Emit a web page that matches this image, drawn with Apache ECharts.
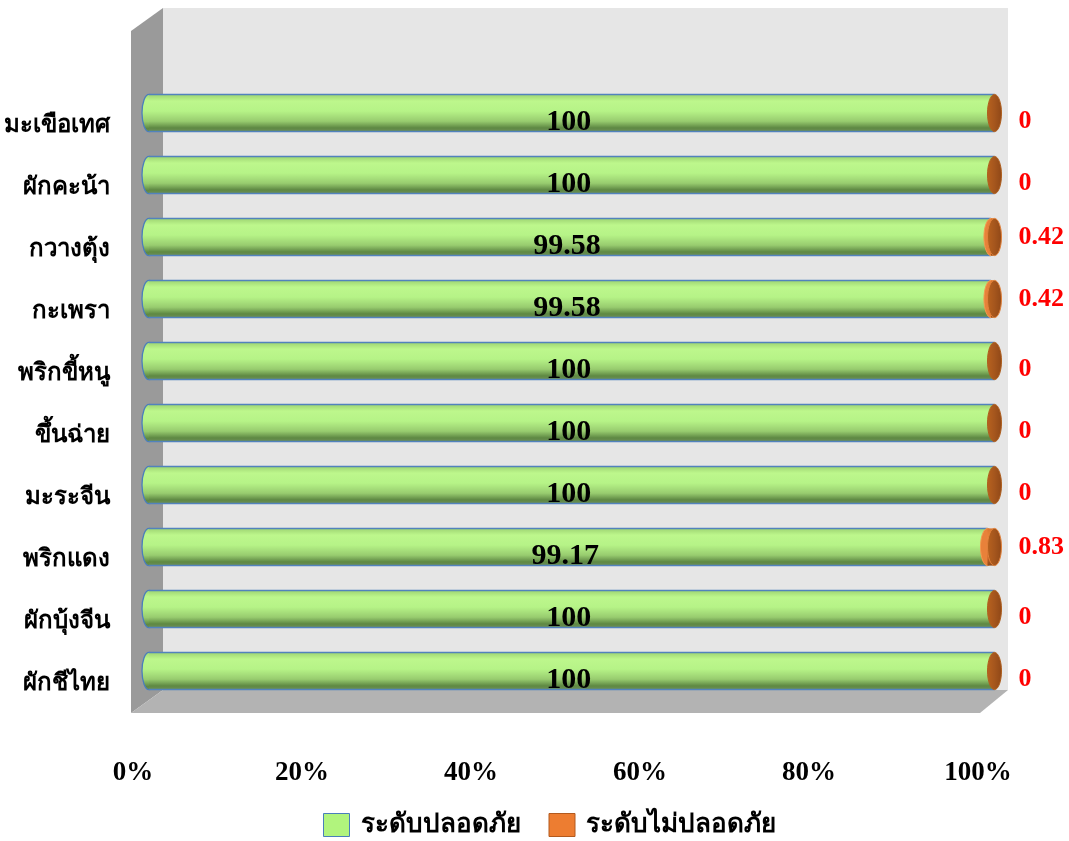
<!DOCTYPE html>
<html><head><meta charset="utf-8">
<script src="https://cdn.jsdelivr.net/npm/echarts@6/dist/echarts.min.js"></script>
<style>html,body{margin:0;padding:0;background:#fff}#c{width:1069px;height:841px}</style>
</head><body><div id="c"></div>
<script>
const categories = ['ผักชีไทย','ผักบุ้งจีน','พริกแดง','มะระจีน','ขึ้นฉ่าย','พริกขี้หนู','กะเพรา','กวางตุ้ง','ผักคะน้า','มะเขือเทศ'];
const safeValues = [100,100,99.17,100,100,100,99.58,99.58,100,100];
const unsafeValues = [0,0,0.83,0,0,0,0.42,0.42,0,0];
const xTicks = [0,20,40,60,80,100];
const seriesNames = ['ระดับปลอดภัย','ระดับไม่ปลอดภัย'];

const FONT = '"Liberation Serif","Times New Roman",serif';
const chart = echarts.init(document.getElementById('c'));

const greenGrad = () => new echarts.graphic.LinearGradient(0,0,0,1,[
  {offset:0,color:'#9ed472'},{offset:0.18,color:'#bdf78c'},{offset:0.45,color:'#b6f387'},
  {offset:0.72,color:'#98cc6f'},{offset:0.9,color:'#5e8843'},{offset:1,color:'#6d8f55'}]);
const orangeGrad = () => new echarts.graphic.LinearGradient(0,0,0,1,[
  {offset:0,color:'#d9762f'},{offset:0.3,color:'#f28a3c'},{offset:0.75,color:'#c9672a'},{offset:1,color:'#8e4a1a'}]);
const capGrad = () => new echarts.graphic.LinearGradient(0,0,1,0,[
  {offset:0,color:'#b8621f'},{offset:0.5,color:'#a5561d'},{offset:1,color:'#8f4717'}]);

function barH(api){ return api.size([0,1])[1]*0.6; }

function renderSafe(params, api){
  const ci = api.value(0), v = api.value(1);
  const p0 = api.coord([0, ci]), p1 = api.coord([v, ci]);
  const h = barH(api), y0 = p0[1]-h/2, y1 = p0[1]+h/2;
  return {type:'group', children:[
    {type:'ellipse', shape:{cx:p0[0], cy:p0[1], rx:7, ry:h/2}, style:{fill:greenGrad(), stroke:'#4a7ebb', lineWidth:1.3}},
    {type:'rect', shape:{x:p0[0], y:y0, width:p1[0]-p0[0], height:h}, style:{fill:greenGrad()}},
    {type:'line', shape:{x1:p0[0],y1:y0,x2:p1[0],y2:y0}, style:{stroke:'#5282bd', lineWidth:1.5}},
    {type:'line', shape:{x1:p0[0],y1:y1,x2:p1[0],y2:y1}, style:{stroke:'#5282bd', lineWidth:1.5}},
    {type:'text', z2:10, style:{text:String(v), x:(p0[0]+p1[0])/2 - 3, y:p0[1]+9, align:'center', verticalAlign:'middle',
      font:'bold 30px '+FONT, fill:'#000'}}
  ]};
}
function renderUnsafe(params, api){
  const ci = api.value(0), s = api.value(1), v = api.value(2);
  const pS = api.coord([s, ci]), pE = api.coord([s+v, ci]);
  const h = barH(api), y0 = pS[1]-h/2;
  const ch = [];
  if (v > 0) {
    ch.push({type:'ellipse', shape:{cx:pS[0], cy:pS[1], rx:7, ry:h/2}, style:{fill:'#e8813a', stroke:'#f39a50', lineWidth:1}});
    ch.push({type:'rect', shape:{x:pS[0], y:y0, width:pE[0]-pS[0], height:h}, style:{fill:orangeGrad()}});
  }
  ch.push({type:'ellipse', shape:{cx:pE[0], cy:pE[1], rx:7, ry:h/2}, style:{fill:capGrad(), stroke:v>0?'#e0813a':'#b0601f', lineWidth:1}});
  ch.push({type:'text', style:{text:String(v), x:pE[0]+24, y:pE[1]+(v===0?8:0), align:'left', verticalAlign:'middle',
    font:'bold 26px '+FONT, fill:'#ff0000'}});
  return {type:'group', children:ch};
}

chart.setOption({
  backgroundColor:'#ffffff',
  animation:false,
  graphic:[
    {type:'rect', z:0, shape:{x:163,y:8,width:845,height:682}, style:{fill:'#e6e6e6'}},
    {type:'polygon', z:0, shape:{points:[[131,31],[163,8],[163,690],[131,713]]}, style:{fill:'#9a9a9a'}},
    {type:'polygon', z:0, shape:{points:[[131,713],[163,690],[1008,690],[980,713]]}, style:{fill:'#b3b3b3'}}
  ],
  legend:{
    top:807, left:318, icon:'rect', itemWidth:26, itemHeight:23, itemGap:28,
    textStyle:{fontFamily:FONT, fontSize:26, fontWeight:'bold', color:'#000', padding:[0,0,0,6]},
    data:[
      {name:seriesNames[0], itemStyle:{color:'#b1f47d', borderColor:'#4a7ebb', borderWidth:1}},
      {name:seriesNames[1], itemStyle:{color:'#ed7d31', borderColor:'#b35a1e', borderWidth:1}}
    ]
  },
  grid:[
    {left:149, right:74.5, top:82, height:620},
    {left:133, right:91, top:757, height:1}
  ],
  xAxis:[
    {gridIndex:0, type:'value', min:0, max:100, show:false},
    {gridIndex:1, type:'value', min:xTicks[0], max:xTicks[xTicks.length-1], interval:xTicks[1]-xTicks[0],
      axisLine:{show:false}, axisTick:{show:false}, splitLine:{show:false},
      axisLabel:{formatter:'{value}%', margin:2, fontFamily:FONT, fontSize:27, fontWeight:'bold', color:'#000'}}
  ],
  yAxis:[
    {gridIndex:0, type:'category', data:categories, axisLine:{show:false}, axisTick:{show:false},
      axisLabel:{margin:39, fontFamily:FONT, fontSize:24, fontWeight:'bold', color:'#000', verticalAlign:'top', lineHeight:26}},
    {gridIndex:1, type:'value', show:false}
  ],
  series:[
    {name:seriesNames[0], type:'custom', xAxisIndex:0, yAxisIndex:0, itemStyle:{color:'#b1f47d'},
      renderItem:renderSafe, encode:{x:1, y:0},
      data:categories.map((c,i)=>[i, safeValues[i]])},
    {name:seriesNames[1], type:'custom', xAxisIndex:0, yAxisIndex:0, itemStyle:{color:'#ed7d31'},
      renderItem:renderUnsafe, encode:{x:[1,2], y:0},
      data:categories.map((c,i)=>[i, safeValues[i], unsafeValues[i]])}
  ]
});
</script></body></html>
